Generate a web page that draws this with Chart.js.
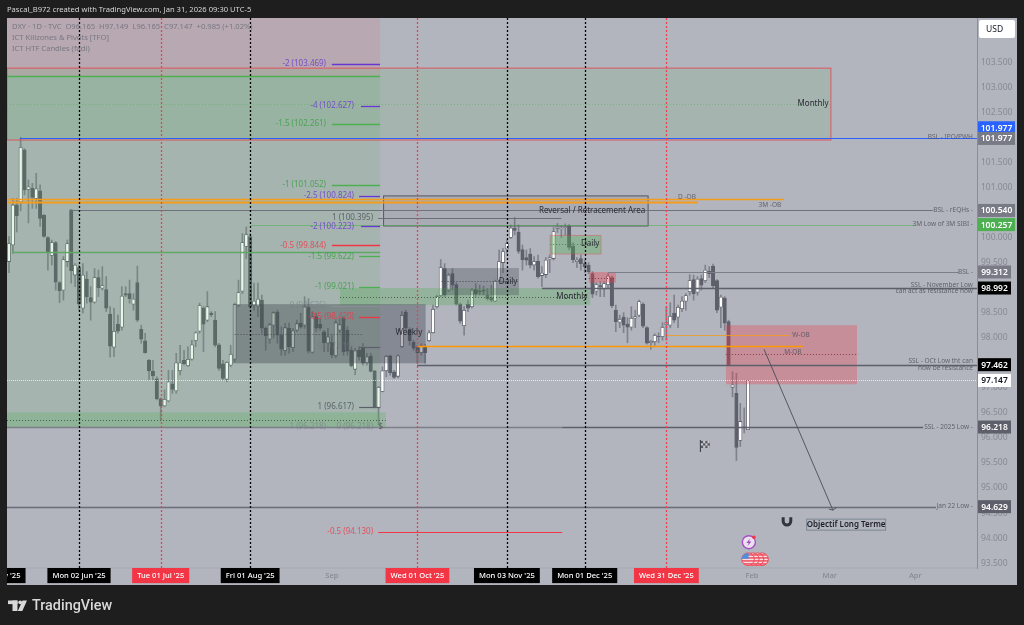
<!DOCTYPE html>
<html>
<head>
<meta charset="utf-8">
<title>DXY 1D</title>
<style>
  html, body { margin: 0; background: #1e1e1e; }
  canvas { display: block; }
</style>
<script src="https://cdn.jsdelivr.net/npm/chart.js@4/dist/chart.umd.min.js"></script>
</head>
<body>
<canvas id="dxy-chart" width="1024" height="625"></canvas>
<script>
// daily candles (first bar is early May '25, last is 30 Jan '26)
const opens = [
  99.52,99.85,100.65,100.71,101.75,100.96,100.98,100.78,100.93,100.44,
  100.00,99.64,99.90,99.10,98.95,99.52,100.55,99.25,99.40,98.59,
  99.17,98.80,98.71,99.20,98.99,98.96,98.47,97.81,98.27,98.21,
  98.88,98.88,98.67,99.10,98.17,97.94,97.55,97.33,97.18,96.78,
  96.64,96.74,97.08,96.94,97.34,97.55,97.44,97.57,97.94,98.13,
  98.59,98.35,98.49,98.35,97.86,97.48,97.17,97.45,97.57,98.65,
  98.93,99.82,100.02,98.65,98.63,98.75,98.19,97.97,98.25,98.51,
  98.05,97.74,98.19,97.80,98.15,98.29,98.25,98.61,97.71,98.42,
  98.27,98.12,97.89,97.91,97.64,98.15,98.39,98.15,97.75,97.37,
  97.75,97.79,97.50,97.63,97.34,96.60,96.93,97.34,97.64,97.32,
  97.23,97.82,98.51,98.17,97.91,97.81,97.70,97.82,97.94,98.10,
  98.62,98.84,99.38,98.95,99.28,99.06,98.67,98.24,98.67,98.62,
  98.96,98.93,98.95,98.85,98.80,98.73,99.15,99.50,99.77,100.00,
  100.19,100.11,99.76,99.60,99.67,99.45,99.53,99.24,99.26,99.57,
  99.58,100.18,100.17,100.20,100.23,99.83,99.52,99.58,99.48,99.45,
  99.28,98.93,99.04,98.97,99.06,99.20,98.55,98.31,98.41,98.27,
  98.21,98.39,98.45,98.67,98.20,97.90,97.92,98.03,98.02,98.26,
  98.25,98.49,98.41,98.58,98.73,98.92,99.16,98.91,99.18,99.14,
  99.33,99.43,99.14,98.61,98.79,98.32,97.01,96.89,95.95,96.22,96.165
];
const highs = [
  100.02,100.78,100.78,102.00,101.77,101.15,101.08,101.28,101.05,100.46,
  100.02,99.95,99.92,99.12,99.62,99.95,100.56,99.48,99.45,99.48,
  99.32,99.02,99.38,99.35,99.42,99.22,98.62,98.59,98.45,99.02,
  99.02,99.15,98.88,99.43,98.25,98.09,97.57,97.55,97.22,96.80,
  96.96,97.35,97.35,97.69,97.85,97.75,97.82,97.95,98.12,98.69,
  98.62,98.92,98.52,98.52,97.89,97.55,97.52,97.85,98.69,99.15,
  100.08,100.21,100.08,99.09,99.09,98.85,98.22,98.29,98.52,98.55,
  98.22,98.29,98.29,98.19,98.35,98.49,98.82,98.78,98.52,98.49,
  98.38,98.15,98.19,98.05,98.36,98.38,98.42,98.22,97.82,97.79,
  97.82,97.89,97.69,97.69,97.35,97.03,97.42,97.65,97.65,97.35,
  97.66,98.52,98.55,98.20,97.95,97.85,97.88,97.87,98.15,98.65,
  98.85,99.56,99.48,99.28,99.38,99.10,98.69,98.62,98.75,98.98,
  99.08,99.05,99.03,98.98,99.05,99.15,99.75,99.78,99.95,100.25,
  100.40,100.25,99.85,99.75,99.78,99.62,99.65,99.42,99.60,99.65,
  100.20,100.28,100.24,100.27,100.26,99.90,99.60,99.65,99.55,99.50,
  99.32,99.10,99.12,99.12,99.28,99.23,98.65,98.45,98.50,98.40,
  98.62,98.55,98.75,98.70,98.22,97.95,98.08,98.10,98.30,98.62,
  98.70,98.85,98.65,98.82,98.88,99.26,99.25,99.22,99.25,99.45,
  99.42,99.47,99.16,98.85,98.82,98.35,97.32,97.29,96.69,96.60,97.149
];
const lows = [
  99.30,99.68,100.11,100.53,100.85,100.29,100.58,100.58,100.22,100.00,
  99.35,99.45,98.95,98.70,98.75,99.42,99.09,99.02,98.55,98.49,
  98.69,98.35,98.69,98.82,98.95,98.52,97.61,97.62,98.09,98.15,
  98.82,98.69,98.55,98.32,97.89,97.69,97.16,97.16,96.76,96.36,
  96.62,96.72,96.89,96.89,97.26,97.45,97.42,97.55,97.82,98.09,
  97.72,98.32,98.42,97.82,97.35,97.16,97.12,97.42,97.52,98.62,
  98.88,99.58,98.59,98.55,98.42,98.09,97.75,97.89,97.99,97.89,
  97.65,97.65,97.69,97.72,98.12,98.19,98.19,97.69,97.69,98.12,
  98.15,97.72,97.72,97.60,97.60,98.10,97.65,97.65,97.42,97.26,
  97.55,97.45,97.45,97.32,96.60,96.26,96.92,97.22,97.25,97.19,
  97.20,97.80,98.15,97.85,97.75,97.49,97.65,97.49,97.92,98.09,
  98.59,98.82,98.82,98.92,98.95,98.65,98.29,98.05,98.52,98.59,
  98.82,98.85,98.85,98.75,98.72,98.72,99.12,99.30,99.68,99.98,
  100.05,99.68,99.35,99.45,99.39,99.35,99.19,99.02,99.20,99.30,
  99.55,100.10,100.00,100.05,99.75,99.50,99.40,99.35,99.30,99.28,
  98.80,98.85,98.82,98.82,98.98,98.60,98.12,98.20,98.10,97.90,
  98.15,98.20,98.42,98.20,97.87,97.77,97.85,97.90,97.95,97.95,
  98.20,98.30,98.20,98.52,98.55,98.85,98.75,98.85,98.95,99.10,
  99.20,99.00,98.50,98.20,98.15,97.44,96.82,95.55,95.83,96.10,96.165
];
const closes = [
  99.88,100.65,100.43,101.80,100.95,101.01,100.80,100.97,100.38,100.02,
  99.70,99.90,99.11,98.94,99.56,99.88,99.34,99.45,98.67,99.25,
  98.82,98.71,99.20,99.00,99.04,98.59,97.83,98.13,98.13,98.83,
  98.85,98.78,98.77,98.35,97.97,97.70,97.34,97.24,96.78,96.64,
  96.77,97.12,96.97,97.50,97.50,97.48,97.57,97.86,98.10,98.64,
  98.27,98.62,98.46,97.85,97.39,97.19,97.51,97.67,98.66,98.90,
  99.90,100.06,98.62,98.73,98.77,98.19,98.04,98.26,98.50,98.05,
  97.77,98.20,97.82,98.14,98.28,98.21,98.62,97.73,98.42,98.19,
  98.19,97.90,98.02,97.65,98.30,98.26,97.72,97.73,97.44,97.74,
  97.62,97.49,97.62,97.33,96.62,97.01,97.34,97.63,97.30,97.21,
  97.64,98.45,98.19,97.94,97.79,97.70,97.84,97.70,98.10,98.57,
  98.82,99.40,98.85,99.25,99.05,98.67,98.33,98.55,98.59,98.95,
  98.88,98.92,98.93,98.78,98.75,99.13,99.52,99.72,99.88,100.19,
  100.14,99.72,99.56,99.55,99.45,99.52,99.22,99.29,99.55,99.60,
  100.12,100.21,100.19,100.22,99.80,99.56,99.55,99.48,99.42,99.32,
  98.87,99.06,99.02,99.08,99.23,98.64,98.32,98.37,98.25,98.21,
  98.39,98.42,98.72,98.23,97.89,97.93,98.05,98.02,98.21,98.30,
  98.43,98.35,98.61,98.73,98.84,99.14,98.88,99.17,99.05,99.35,
  99.28,99.04,98.55,98.81,98.29,97.46,97.06,95.81,96.33,96.20,97.147
];

// time axis, positions are bar numbers
const timeTickBars = [-4, 18, 39, 62, 83, 105, 128, 148, 169, 191, 211, 233];
const timeTickLabels = ["Thu 01 May '25", "Mon 02 Jun '25", "Tue 01 Jul '25", "Fri 01 Aug '25", "Sep",
  "Wed 01 Oct '25", "Mon 03 Nov '25", "Mon 01 Dec '25", "Wed 31 Dec '25", "Feb", "Mar", "Apr"];
const redTimeTicks = ["Tue 01 Jul '25", "Wed 01 Oct '25", "Wed 31 Dec '25"];
const priceTicks = [93.5, 94, 94.5, 95, 95.5, 96, 96.5, 97, 97.5, 98, 98.5, 99, 99.5, 100, 100.5, 101, 101.5, 102, 102.5, 103, 103.5];

const xMin = -0.51, xMax = 248.85, yMin = 93.405, yMax = 104.38;

const GREEN = "rgba(76,175,80,", RED = "rgba(242,54,69,", SLATE = "rgba(60,65,75,";

// shaded boxes [from bar, to bar, top price, bottom price, fill, border]
const zones = [
  [xMin, 95.4, yMax, 103.22, RED + "0.10)", null],
  [xMin, 95.4, 103.22, 96.218, GREEN + "0.13)", null],
  [xMin, 211.3, 103.38, 101.945, GREEN + "0.13)", RED + "0.75)"],
  [xMin, 96.9, 96.51, 96.218, GREEN + "0.25)", null],
  [85.1, 149.4, 98.99, 98.65, GREEN + "0.30)", null],
  [57.6, 107.1, 98.67, 97.49, SLATE + "0.38)", null],
  [111.2, 131.1, 99.39, 98.85, SLATE + "0.30)", null],
  [96.3, 164.3, 100.83, 100.23, SLATE + "0.08)", "#55585f"],
  [139.1, 152.2, 100.04, 99.67, GREEN + "0.35)", RED + "0.35)"],
  [149.1, 156, 99.31, 99.10, RED + "0.35)", null],
  [184.3, 218, 98.25, 97.07, RED + "0.30)", null]
];

// horizontal levels [price, from bar, to bar, colour, width, dash]
const levels = [
  [101.977, 2.83, xMax, "#2962ff", 1.2],
  [103.225, xMin, 95.4, "#4caf50", 1.5],
  [99.72, 0.78, 95.4, "#5fa866", 1.4],
  [100.76, xMin, 199.2, "#f59c1a", 1.3],
  [100.70, xMin, 177.1, "#f59c1a", 1.8],
  [100.54, 15.7, 237.5, "#6f727c", 1.2],
  [100.257, 62, 233.2, "rgba(76,175,80,0.55)", 1],
  [99.312, 154, 244.2, "#7c7f89", 1],
  [98.992, 137, xMax, "#5d606b", 1.6],
  [97.83, 104.9, 204.1, "#ff9800", 1.6],
  [98.05, 169, 200.8, "#f59c1a", 0.8],
  [97.462, 104.9, xMax, "#5d606b", 1.5],
  [96.218, xMin, 142.2, "#7c7f89", 1.3],
  [96.218, 142.2, 235, "#5d606b", 1.3],
  [94.629, xMin, 238.3, "#6a6d78", 1.5],
  [97.147, xMin, xMax, "rgba(255,255,255,0.7)", 1, [1, 1]],
  // zone midlines
  [98.08, 58, 91, "#4a4d55", 1, [1, 2]],
  [98.82, 85.1, 149, "#4a5d50", 1, [1, 2]],
  [99.13, 111.2, 131, "#44474f", 1, [1, 2]],
  [96.36, xMin, 96.9, "#4a5d50", 1, [1, 2]],
  [102.66, xMin, 211.3, "rgba(76,175,80,0.45)", 1, [1, 2]],
  [97.67, 184.3, 218.3, "#8d3a48", 1, [1, 2]],
  [99.2, 149.1, 156, "#8d3a48", 1, [1, 2]],
  [99.87, 139.1, 152, "#55805c", 1, [1, 2]],
  // fib stubs
  [103.469, 83, 95.4, "#6a35d0", 1.3],
  [102.627, 90.5, 95.4, "#6a35d0", 1.3],
  [102.261, 83, 95.4, "#4caf50", 1.3],
  [101.052, 83, 95.4, "#4caf50", 1.3],
  [100.824, 90, 95.4, "#6a35d0", 1.3],
  [100.395, 94.9, 142, "#6a6d78", 1.2],
  [100.223, 90.5, 95.4, "#6a35d0", 1.3],
  [99.844, 83, 95.4, "#f23645", 1.3],
  [99.622, 90, 95.4, "#4caf50", 1.3],
  [99.021, 90, 95.4, "#4caf50", 1.3],
  [98.635, 83, 95.4, "#8a8d96", 1],
  [98.42, 90, 95.4, "#f23645", 1.3],
  [97.819, 90, 95.4, "#5d606b", 1.2],
  [96.617, 90, 95.4, "#5d606b", 1.2],
  [94.13, 94.9, 142.2, "#f23645", 1.2]
];

// texts on the chart [text, bar, price, align, colour, font size]
const PURPLE_T = "rgba(106,53,208,0.8)", GREEN_T = "rgba(60,160,70,0.85)", RED_T = "rgba(242,54,69,0.8)",
  GREY_T = "rgba(75,78,88,0.8)", FAINT_T = "rgba(120,123,134,0.6)", DARK_T = "#2a2c33";
const notes = [
  ["-2 (103.469)", 81.5, 103.469, "right", PURPLE_T, 8],
  ["-4 (102.627)", 88.7, 102.627, "right", PURPLE_T, 8],
  ["-1.5 (102.261)", 81.5, 102.261, "right", GREEN_T, 8],
  ["-1 (101.052)", 81.5, 101.052, "right", GREEN_T, 8],
  ["-2.5 (100.824)", 88.7, 100.824, "right", PURPLE_T, 8],
  ["1 (100.395)", 93.6, 100.395, "right", GREY_T, 8],
  ["-2 (100.223)", 88.7, 100.223, "right", PURPLE_T, 8],
  ["-0.5 (99.844)", 81.5, 99.844, "right", RED_T, 8],
  ["-1.5 (99.622)", 88.7, 99.622, "right", GREEN_T, 8],
  ["-1 (99.021)", 88.7, 99.021, "right", GREEN_T, 8],
  ["0 (98.635)", 81.5, 98.635, "right", FAINT_T, 8],
  ["-0.5 (98.420)", 88.7, 98.42, "right", RED_T, 8],
  ["0 (97.819)", 88.7, 97.819, "right", FAINT_T, 8],
  ["1 (96.617)", 88.7, 96.617, "right", GREY_T, 8],
  ["1 (96.218)", 81.5, 96.218, "right", FAINT_T, 8],
  ["0 (96.218)", 93.6, 96.218, "right", FAINT_T, 8],
  ["$", 95.6, 96.218, "center", GREY_T, 8],
  ["-0.5 (94.130)", 93.6, 94.13, "right", RED_T, 8],
  ["Monthly", 206.7, 102.66, "center", DARK_T, 8],
  ["Weekly", 102.8, 98.09, "center", DARK_T, 8],
  ["Daily", 128.3, 99.11, "center", DARK_T, 8],
  ["Monthly", 144.7, 98.81, "center", DARK_T, 8],
  ["Reversal / Retracement Area", 149.9, 100.53, "center", DARK_T, 8],
  ["Daily", 149.4, 99.87, "center", DARK_T, 8],
  ["D -OB", 174.3, 100.81, "center", GREY_T, 6.5],
  ["3M -OB", 195.6, 100.65, "center", GREY_T, 6.5],
  ["W-OB", 203.6, 98.06, "center", GREY_T, 6.5],
  ["M-OB", 201.5, 97.71, "center", GREY_T, 6.5],
  ["BSL - IPO/PWH", 247.8, 102.0, "right", GREY_T, 6.5],
  ["BSL - rEQHs -", 247.8, 100.54, "right", GREY_T, 6.5],
  ["3M Low of 3M SIBI -", 247.8, 100.27, "right", GREY_T, 6.5],
  ["BSL -", 247.8, 99.31, "right", GREY_T, 6.5],
  ["SSL - November Low", 247.8, 99.05, "right", GREY_T, 6.5],
  ["can act as resistance now", 247.8, 98.92, "right", GREY_T, 6.5],
  ["SSL - OCt Low tht can", 247.8, 97.53, "right", GREY_T, 6.5],
  ["now be resistance", 247.8, 97.40, "right", GREY_T, 6.5],
  ["SSL - 2025 Low -", 247.8, 96.22, "right", GREY_T, 6.5],
  ["Jan 22 Low -", 247.8, 94.63, "right", GREY_T, 6.5]
];

// tags on the price axis [price, label, background, text colour, wide]
const priceTags = [
  [102.19, "101.977", "#2962ff", "#fff", true],
  [101.977, "101.977", "#787b86", "#fff", true],
  [100.54, "100.540", "#787b86", "#fff", true],
  [100.257, "100.257", "#4caf50", "#fff", true],
  [99.312, "99.312", "#787b86", "#fff", false],
  [98.992, "98.992", "#000", "#fff", false],
  [97.462, "97.462", "#000", "#fff", false],
  [97.147, "97.147", "#fff", "#131722", false],
  [96.218, "96.218", "#5d606b", "#fff", false],
  [94.629, "94.629", "#5d606b", "#fff", false]
];

const targetArrow = { fromBar: 194.1, fromPrice: 97.77, toBar: 211.8, toPrice: 94.56 };

const FONT = '"Noto Sans", "Open Sans", sans-serif';

function lineAt(ctx, x1, y1, x2, y2, color, width, dash) {
  ctx.strokeStyle = color;
  ctx.lineWidth = width;
  ctx.setLineDash(dash || []);
  ctx.beginPath();
  ctx.moveTo(x1, y1);
  ctx.lineTo(x2, y2);
  ctx.stroke();
  ctx.setLineDash([]);
}

function drawIcons(ctx, x, y) {
  // magnet
  const mx = x.getPixelForValue(200), my = y.getPixelForValue(94.32);
  ctx.strokeStyle = "#33353c";
  ctx.lineWidth = 3;
  ctx.beginPath();
  ctx.arc(mx, my - 1, 3.8, 0, Math.PI);
  ctx.moveTo(mx - 3.8, my - 5);
  ctx.lineTo(mx - 3.8, my - 1);
  ctx.moveTo(mx + 3.8, my - 5);
  ctx.lineTo(mx + 3.8, my - 1);
  ctx.stroke();

  // chequered flag
  const fx = x.getPixelForValue(178.9), fy = y.getPixelForValue(95.84);
  lineAt(ctx, fx - 4.5, fy - 6, fx - 4.5, fy + 6, "#33353c", 1);
  ctx.fillStyle = "#55585f";
  ctx.fillRect(fx - 4, fy - 5, 9, 7);
  ctx.fillStyle = "#c8cad0";
  for (let r = 0; r < 3; r++) {
    for (let c = 0; c < 4; c++) {
      if ((r + c) % 2) ctx.fillRect(fx - 4 + c * 2.2, fy - 5 + r * 2.3, 2.2, 2.3);
    }
  }

  // event bubbles
  const ex = x.getPixelForValue(190.2), ey = y.getPixelForValue(93.92);
  ctx.beginPath();
  ctx.arc(ex, ey, 6.5, 0, Math.PI * 2);
  ctx.fillStyle = "#e9e2ee";
  ctx.fill();
  ctx.strokeStyle = "#a64fc4";
  ctx.lineWidth = 1.4;
  ctx.stroke();
  ctx.fillStyle = "#9c3fbd";
  ctx.beginPath();
  ctx.moveTo(ex + 1.5, ey - 4);
  ctx.lineTo(ex - 2.5, ey + 0.8);
  ctx.lineTo(ex, ey + 0.6);
  ctx.lineTo(ex - 1.5, ey + 4);
  ctx.lineTo(ex + 2.5, ey - 0.8);
  ctx.lineTo(ex, ey - 0.6);
  ctx.closePath();
  ctx.fill();
  ctx.beginPath();
  ctx.arc(ex + 5, ey - 5, 1.8, 0, Math.PI * 2);
  ctx.fillStyle = "#f23645";
  ctx.fill();

  const ux = x.getPixelForValue(190), uy = y.getPixelForValue(93.58);
  [4.5, 3, 1.5, 0].forEach(n => {
    const cx = ux + n * 3.1;
    ctx.beginPath();
    ctx.arc(cx, uy, 6.3, 0, Math.PI * 2);
    ctx.fillStyle = "#f7dfe2";
    ctx.fill();
    ctx.strokeStyle = "#ef4455";
    ctx.lineWidth = 1;
    ctx.stroke();
    ctx.save();
    ctx.clip();
    ctx.fillStyle = "#ef4455";
    for (let s = -5; s < 6; s += 3) ctx.fillRect(cx - 7, uy + s, 14, 1.4);
    if (n === 0) {
      ctx.fillStyle = "#4a8fe0";
      ctx.fillRect(cx - 7, uy - 7, 7.5, 6.5);
    }
    ctx.restore();
  });
}

const drawingsPlugin = {
  id: "drawings",
  beforeDraw(chart) {
    const ctx = chart.ctx;
    ctx.fillStyle = "#1e1e1e";
    ctx.fillRect(0, 0, chart.width, chart.height);
    ctx.fillStyle = "#b2b5be";
    ctx.fillRect(7, 18, 1010, 567);
    lineAt(ctx, 7, 568, 977, 568, "#a5a8b1", 1);
  },
  afterDatasetsDraw(chart) {
    const ctx = chart.ctx, a = chart.chartArea, x = chart.scales.x, y = chart.scales.y;
    ctx.save();
    ctx.beginPath();
    ctx.rect(a.left, a.top, a.width, a.height);
    ctx.clip();

    zones.forEach(([from, to, top, bottom, fill, border]) => {
      const x1 = x.getPixelForValue(from), x2 = x.getPixelForValue(to);
      const y1 = y.getPixelForValue(top), y2 = y.getPixelForValue(bottom);
      ctx.fillStyle = fill;
      ctx.fillRect(x1, y1, x2 - x1, y2 - y1);
      if (border) {
        ctx.strokeStyle = border;
        ctx.lineWidth = 1;
        ctx.strokeRect(x1, y1, x2 - x1, y2 - y1);
      }
    });

    levels.forEach(([price, from, to, color, width, dash]) => {
      const py = Math.round(y.getPixelForValue(price)) + 0.5;
      lineAt(ctx, x.getPixelForValue(from), py, x.getPixelForValue(to), py, color, width, dash);
    });

    // monthly vertical session lines come from the tick list
    timeTickBars.forEach((bar, i) => {
      const label = timeTickLabels[i];
      if (label.length < 5 || bar < 0) return;
      const px = Math.round(x.getPixelForValue(bar)) + 0.5;
      const red = redTimeTicks.includes(label);
      lineAt(ctx, px, a.top, px, a.bottom, red ? "#f0404f" : "#000000", 1.3, [2, 2]);
    });

    ctx.textBaseline = "middle";
    notes.forEach(([text, bar, price, align, color, size]) => {
      ctx.font = size + "px " + FONT;
      ctx.textAlign = align;
      ctx.fillStyle = color;
      ctx.fillText(text, x.getPixelForValue(bar), y.getPixelForValue(price));
    });

    // target arrow
    const ax1 = x.getPixelForValue(targetArrow.fromBar), ay1 = y.getPixelForValue(targetArrow.fromPrice);
    const ax2 = x.getPixelForValue(targetArrow.toBar), ay2 = y.getPixelForValue(targetArrow.toPrice);
    lineAt(ctx, ax1, ay1, ax2, ay2, "#4a4d55", 0.9);
    lineAt(ctx, ax2 - 4, ay2 - 1, ax2, ay2, "#4a4d55", 0.9);
    lineAt(ctx, ax2 + 3.5, ay2 - 2.5, ax2, ay2, "#4a4d55", 0.9);

    // target label
    const lx = x.getPixelForValue(215.2), ly = y.getPixelForValue(94.27);
    ctx.strokeStyle = "#7d8794";
    ctx.lineWidth = 1;
    ctx.strokeRect(lx - 39.5, ly - 5.5, 79, 11);
    ctx.fillStyle = "#1c1e24";
    ctx.textAlign = "center";
    ctx.font = "600 8px " + FONT;
    ctx.fillText("Objectif Long Terme", lx, ly + 0.5);

    drawIcons(ctx, x, y);
    ctx.restore();

    // legend, top left
    ctx.save();
    ctx.textBaseline = "middle";
    ctx.textAlign = "left";
    ctx.font = "7.6px " + FONT;
    ctx.fillStyle = "rgba(105,108,120,0.8)";
    ctx.fillText("DXY · 1D · TVC  O96.165  H97.149  L96.165  C97.147  +0.985 (+1.02%)", 12, 27);
    ctx.fillText("ICT Killzones & Pivots [TFO]", 12, 38);
    ctx.fillText("ICT HTF Candles (fadi)", 12, 49);
    ctx.restore();
  },
  afterDraw(chart) {
    const ctx = chart.ctx, y = chart.scales.y;
    ctx.save();
    ctx.fillStyle = "#1e1e1e";
    ctx.fillRect(0, 0, 7, chart.height);

    ctx.textBaseline = "middle";
    ctx.textAlign = "center";
    ctx.font = "600 8.5px " + FONT;
    priceTags.forEach(([price, label, bg, fg, wide]) => {
      const py = y.getPixelForValue(price);
      const w = wide ? 37 : 33;
      ctx.fillStyle = bg;
      ctx.fillRect(978, py - 6.5, w, 13);
      ctx.fillStyle = fg;
      ctx.fillText(label, 978 + w / 2, py + 0.5);
    });

    // header
    ctx.textAlign = "left";
    ctx.font = "7.6px " + FONT;
    ctx.fillStyle = "#d6d6d6";
    ctx.fillText("Pascal_B972 created with TradingView.com, Jan 31, 2026 09:30 UTC-5", 7, 9.5);

    // USD button
    ctx.fillStyle = "#fff";
    ctx.beginPath();
    ctx.roundRect(979, 20, 36, 18, 2);
    ctx.fill();
    ctx.fillStyle = "#131722";
    ctx.font = "8.5px " + FONT;
    ctx.fillText("USD", 986, 29.5);

    // TradingView logo
    ctx.fillStyle = "#d9d9d9";
    ctx.fillRect(8, 600.5, 9.5, 3.6);
    ctx.fillRect(12.5, 600.5, 5, 10.5);
    ctx.beginPath();
    ctx.arc(20.2, 602.3, 1.9, 0, Math.PI * 2);
    ctx.fill();
    ctx.beginPath();
    ctx.moveTo(22.5, 600.5);
    ctx.lineTo(27, 600.5);
    ctx.lineTo(22.3, 611);
    ctx.lineTo(17.8, 611);
    ctx.closePath();
    ctx.fill();
    ctx.font = "500 14.4px Roboto, " + FONT;
    ctx.fillStyle = "#d9d9d9";
    ctx.fillText("TradingView", 32, 606);
    ctx.restore();
  }
};

new Chart(document.getElementById("dxy-chart"), {
  type: "bar",
  data: {
    datasets: [
      {
        label: "Wick",
        data: highs.map((h, i) => ({ x: i, y: [lows[i], h] })),
        backgroundColor: "rgba(93,96,107,0.6)",
        barThickness: 1,
        grouped: false,
        order: 2
      },
      {
        label: "Body",
        data: opens.map((o, i) => ({ x: i, y: [o, closes[i]] })),
        backgroundColor: opens.map((o, i) => closes[i] >= o ? "#ffffff" : "#5d606b"),
        borderColor: "#5d606b",
        borderWidth: 0.8,
        borderSkipped: false,
        barThickness: 3.4,
        grouped: false,
        order: 1
      }
    ]
  },
  options: {
    responsive: false,
    animation: false,
    devicePixelRatio: 1,
    layout: { padding: { left: 7, top: 18, right: 7, bottom: 40 } },
    plugins: { legend: { display: false }, tooltip: { enabled: false } },
    scales: {
      x: {
        type: "linear",
        offset: false,
        min: xMin,
        max: xMax,
        grid: { display: false, drawTicks: false },
        border: { display: false },
        afterBuildTicks: scale => {
          scale.ticks = timeTickBars.map(v => ({ value: v }));
        },
        afterFit: scale => {
          scale.height = 17;
          scale.paddingLeft = 0;
          scale.paddingRight = 0;
        },
        ticks: {
          autoSkip: false,
          maxRotation: 0,
          minRotation: 0,
          padding: 3,
          font: { family: FONT, size: 7.6, weight: "500" },
          callback: value => timeTickLabels[timeTickBars.indexOf(value)],
          color: ctx => {
            const label = timeTickLabels[timeTickBars.indexOf(ctx.tick.value)];
            return label.length < 5 ? "#868993" : "#ffffff";
          },
          showLabelBackdrop: ctx => timeTickLabels[timeTickBars.indexOf(ctx.tick.value)].length >= 5,
          backdropColor: ctx => redTimeTicks.includes(timeTickLabels[timeTickBars.indexOf(ctx.tick.value)]) ? "#f23645" : "#000000",
          backdropPadding: { x: 5, y: 3 }
        }
      },
      y: {
        position: "right",
        min: yMin,
        max: yMax,
        grid: { display: false, drawTicks: false },
        border: { display: true, color: "#8a8d96", width: 1 },
        afterBuildTicks: scale => {
          scale.ticks = priceTicks.map(v => ({ value: v }));
        },
        afterFit: scale => {
          scale.width = 40;
          scale.paddingTop = 0;
          scale.paddingBottom = 0;
        },
        ticks: {
          padding: 4,
          color: "#868993",
          font: { family: FONT, size: 8.5 },
          callback: value => value.toFixed(3)
        }
      }
    }
  },
  plugins: [drawingsPlugin]
});
</script>
</body>
</html>
